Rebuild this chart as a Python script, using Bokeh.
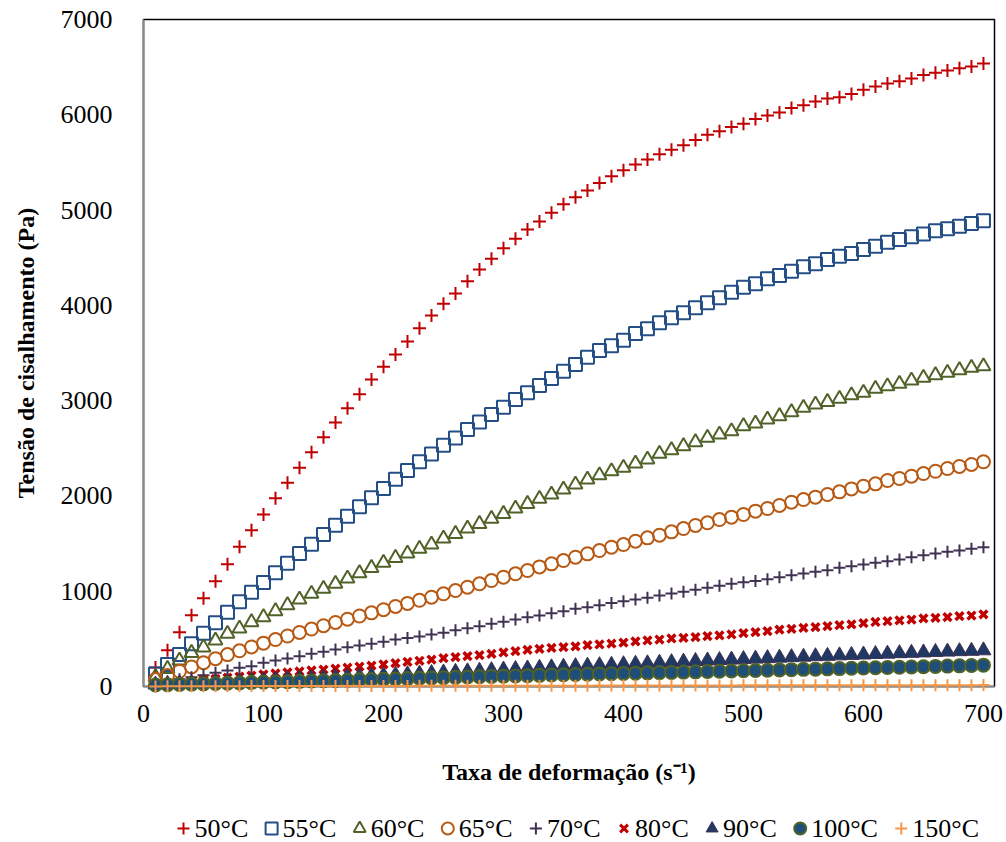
from bokeh.plotting import figure
from bokeh.layouts import column
from bokeh.models import Range1d, FixedTicker
from bokeh.core.properties import value
from bokeh.embed import file_html
from bokeh.resources import INLINE

shear_rate = list(range(10, 701, 10))

t50 = [199, 381, 570, 748, 927, 1105, 1283, 1466, 1640, 1805, 1976, 2137, 2295, 2459, 2616, 2770, 2921, 3068,
       3222, 3355, 3484, 3620, 3760, 3893, 4016, 4124, 4253, 4376, 4488, 4600, 4698, 4796, 4880, 4971, 5060,
       5135, 5205, 5285, 5355, 5419, 5478, 5530, 5587, 5632, 5680, 5735, 5790, 5828, 5873, 5905, 5955, 5992,
       6025, 6072, 6101, 6139, 6170, 6185, 6218, 6262, 6297, 6328, 6353, 6381, 6418, 6440, 6465, 6489, 6508, 6538]
t55 = [130, 231, 336, 448, 560, 668, 780, 889, 990, 1091, 1193, 1294, 1396, 1493, 1595, 1693, 1788, 1886, 1980,
       2078, 2176, 2267, 2358, 2440, 2532, 2609, 2697, 2777, 2854, 2931, 3012, 3082, 3158, 3232, 3309, 3379,
       3455, 3526, 3575, 3634, 3704, 3754, 3817, 3869, 3922, 3974, 4027, 4079, 4138, 4191, 4226, 4278, 4313,
       4359, 4404, 4436, 4481, 4516, 4544, 4586, 4621, 4663, 4691, 4719, 4750, 4782, 4803, 4830, 4859, 4887]
t60 = [100, 185, 273, 353, 410, 483, 553, 609, 675, 728, 791, 854, 913, 973, 1025, 1078, 1133, 1189, 1245, 1298,
       1350, 1396, 1445, 1490, 1553, 1602, 1658, 1707, 1760, 1812, 1868, 1917, 1970, 2015, 2067, 2120, 2172,
       2217, 2259, 2295, 2340, 2382, 2442, 2480, 2522, 2564, 2610, 2645, 2679, 2732, 2760, 2802, 2837, 2879,
       2925, 2959, 2987, 3019, 3057, 3082, 3124, 3151, 3177, 3211, 3240, 3268, 3292, 3320, 3345, 3361]
t65 = [73, 115, 160, 205, 250, 292, 335, 375, 415, 455, 493, 530, 567, 603, 638, 672, 706, 740, 773, 806, 840,
       872, 905, 937, 973, 1007, 1042, 1078, 1112, 1147, 1183, 1217, 1255, 1287, 1322, 1357, 1392, 1427, 1462,
       1490, 1525, 1560, 1588, 1623, 1658, 1690, 1718, 1752, 1777, 1805, 1840, 1868, 1900, 1934, 1962, 1987,
       2015, 2043, 2074, 2102, 2127, 2162, 2183, 2207, 2235, 2259, 2288, 2309, 2330, 2358]
t70 = [25, 50, 75, 98, 119, 143, 168, 196, 213, 248, 273, 294, 318, 343, 364, 388, 413, 430, 448, 469, 493, 510,
       525, 546, 563, 590, 612, 633, 658, 680, 703, 728, 745, 770, 791, 815, 833, 854, 876, 895, 913, 932, 955,
       976, 994, 1015, 1036, 1058, 1078, 1095, 1108, 1125, 1147, 1168, 1186, 1204, 1221, 1245, 1263, 1280,
       1298, 1315, 1333, 1357, 1378, 1396, 1413, 1427, 1445, 1462]
t80 = [15, 28, 42, 55, 68, 80, 92, 104, 115, 126, 137, 148, 158, 168, 178, 188, 198, 208, 220, 232, 245, 258,
       270, 283, 298, 308, 318, 329, 343, 357, 371, 385, 395, 406, 413, 422, 434, 441, 450, 460, 474, 483, 493,
       504, 511, 518, 528, 537, 546, 560, 570, 581, 596, 605, 616, 623, 633, 643, 651, 666, 677, 685, 693, 703,
       714, 721, 728, 738, 745, 756]
t90 = [20, 25, 30, 36, 41, 46, 51, 56, 61, 66, 71, 76, 81, 86, 91, 96, 101, 106, 111, 117, 122, 128, 134, 140,
       146, 152, 158, 164, 170, 176, 182, 188, 194, 200, 206, 212, 217, 222, 227, 232, 237, 242, 248, 254, 260,
       266, 272, 276, 281, 286, 291, 296, 301, 306, 311, 316, 320, 325, 330, 334, 339, 343, 348, 352, 356, 361,
       365, 369, 373, 378]
t100 = [15, 18, 22, 25, 28, 32, 35, 38, 41, 45, 48, 51, 54, 57, 60, 63, 66, 70, 73, 76, 79, 83, 86, 90, 93, 96,
        99, 102, 105, 108, 111, 114, 117, 120, 123, 126, 129, 132, 134, 137, 140, 143, 146, 148, 151, 154, 157,
        160, 163, 166, 168, 171, 174, 177, 180, 182, 185, 188, 191, 194, 197, 199, 202, 205, 208, 211, 214, 217,
        220, 224]
t150 = [1, 2, 2, 2, 3, 3, 3, 3, 4, 4, 4, 4, 5, 5, 5, 5, 5, 6, 6, 6, 6, 6, 7, 7, 7, 7, 7, 8, 8, 8, 8, 8, 9, 9, 9,
        9, 9, 10, 10, 10, 10, 10, 10, 11, 11, 11, 11, 11, 11, 12, 12, 12, 12, 12, 12, 12, 13, 13, 13, 13, 13, 13,
        13, 14, 14, 14, 14, 14, 14, 15]

labels = ["50°C", "55°C", "60°C", "65°C", "70°C", "80°C", "90°C", "100°C", "150°C"]
x_ticks = [0, 100, 200, 300, 400, 500, 600, 700]
y_ticks = [0, 1000, 2000, 3000, 4000, 5000, 6000, 7000]

FONT = "Liberation Serif"

p = figure(frame_width=851, frame_height=667, output_backend="svg", toolbar_location=None,
           x_range=Range1d(0, 709.2), y_range=Range1d(0, 7000),
           min_border_left=143, min_border_right=12, min_border_top=19, min_border_bottom=106)
p.xgrid.visible = False
p.ygrid.visible = False
p.outline_line_color = "black"
p.outline_line_width = 1.5

for ax in (p.xaxis[0], p.yaxis[0]):
    ax.axis_line_color = "#8a8a8a"
    ax.axis_line_width = 2
    ax.major_tick_line_color = None
    ax.minor_tick_line_color = None
    ax.major_label_text_font = FONT
    ax.major_label_text_font_size = "26px"
    ax.major_label_text_color = "black"
    ax.axis_label_text_font = FONT
    ax.axis_label_text_font_style = "bold"
    ax.axis_label_text_font_size = "24px"
    ax.axis_label_text_color = "black"

p.xaxis.ticker = FixedTicker(ticks=x_ticks)
p.yaxis.ticker = FixedTicker(ticks=y_ticks)
p.xaxis.axis_label = "Taxa de deformação (s⁻¹)"
p.yaxis.axis_label = "Tensão de cisalhamento (Pa)"
p.xaxis.major_label_standoff = 12
p.xaxis.axis_label_standoff = 34
p.yaxis.major_label_standoff = 25
p.yaxis.axis_label_standoff = 19

styles = [
    dict(marker="cross", size=13, line_color="#C00000", line_width=2),
    dict(marker="square", size=13, fill_color=None, line_color="#244F86", line_width=2),
    dict(marker="triangle", size=14, fill_color=None, line_color="#4F6228", line_width=2),
    dict(marker="circle", size=13, fill_color=None, line_color="#B85A14", line_width=2),
    dict(marker="cross", size=12, line_color="#3F3151", line_width=2),
    dict(marker="x", size=11, line_color="#C00000", line_width=3.5),
    dict(marker="triangle", size=15, fill_color="#1F3864", line_color="#3F3151", line_width=1),
    dict(marker="circle", size=13, fill_color="#1F4E79", line_color="#4F6228", line_width=2),
    dict(marker="cross", size=12, line_color="#F79646", line_width=2),
]
series = [t50, t55, t60, t65, t70, t80, t90, t100, t150]

for ys, st in zip(series, styles):
    p.scatter(shear_rate, ys, level="overlay", **st)

# legend row (separate strip below the chart, in page-pixel coordinates)
leg = figure(frame_width=851, frame_height=50, output_backend="svg", toolbar_location=None,
             x_range=Range1d(143, 994), y_range=Range1d(0, 50),
             min_border_left=143, min_border_right=12, min_border_top=0, min_border_bottom=0)
leg.axis.visible = False
leg.xgrid.visible = False
leg.ygrid.visible = False
leg.outline_line_color = None

char_w = {"0": 13, "1": 13, "5": 13, "6": 13, "7": 13, "8": 13, "9": 13, "°": 10.4, "C": 17.3}
gap = 23.4
cx = 183.0
gx, tx = [], []
for lab in labels:
    gx.append(cx)
    tx.append(cx + 11)
    cx += 11 + sum(char_w.get(c, 13) for c in lab) + gap

LY = 14
for i, st in enumerate(styles):
    s = dict(st)
    s["size"] = min(s["size"], 12)
    if s["marker"] == "x":
        s["line_width"] = 3
    leg.scatter([gx[i]], [LY], level="overlay", **s)
leg.text(tx, [LY] * len(labels), text=labels, text_font=value(FONT), text_font_size="26px",
         text_baseline="middle", text_align="left", text_color="black", level="overlay")

layout = column(p, leg, spacing=0)
open("out.html", "w").write(file_html(layout, INLINE))
